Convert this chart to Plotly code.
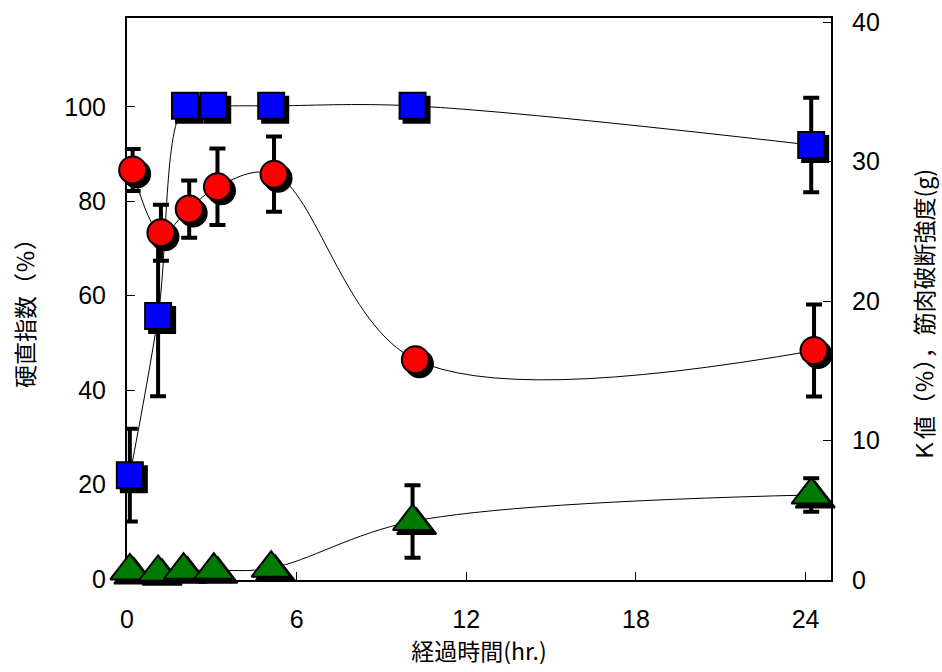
import plotly.graph_objects as go

# ---- data ----
time_rigor = [0.1, 1.1, 2.05, 3.05, 5.1, 10.1, 24.2]
rigor_index = [22.0, 55.7, 100.2, 100.2, 100.2, 100.2, 91.9]
rigor_err = [9.8, 17.0, 0, 0, 0, 0, 10.0]

time_strength = [0.2, 1.2, 2.2, 3.2, 5.2, 10.2, 24.3]
breaking_strength = [29.4, 24.9, 26.6, 28.2, 29.1, 15.8, 16.45]
strength_err = [1.5, 2.0, 2.05, 2.75, 2.7, 0, 3.3]

time_k = [0.1, 1.1, 2.0, 3.07, 5.1, 10.1, 24.2]
k_value = [0.65, 0.55, 0.7, 0.7, 0.85, 4.2, 6.1]
k_err = [0, 0, 0, 0, 0, 2.6, 1.2]

x_ticks = [0, 6, 12, 18, 24]
left_ticks = [0, 20, 40, 60, 80, 100]
right_ticks = [0, 10, 20, 30, 40]

x_title = "経過時間(hr.)"
left_title = "硬直指数（％）"
right_title = "Ｋ値（％），筋肉破断強度(g)"

# ---- layout geometry ----
W, H = 942, 672
ML, MR, MT, MB = 127, 111, 18, 92
PW, PH = W - ML - MR, H - MT - MB
XR = [0, 24.9]
YL = [-0.2, 118.8]
YR = [0, 40.3]
SH = 4  # shadow offset in px

dx = SH * (XR[1] - XR[0]) / PW
dyl = SH * (YL[1] - YL[0]) / PH
dyr = SH * (YR[1] - YR[0]) / PH


def px_to_paper(px, py):
    return (px - ML) / PW, 1 - (py - MT) / PH


FONT = "Liberation Sans, Arial, Noto Sans CJK JP"
CJK = "Noto Sans CJK JP, Liberation Sans"

SQ, CI, TR = 26, 27, 34

fig = go.Figure()

# shadows (on shifted, hidden axes)
fig.add_trace(go.Scatter(x=time_rigor, y=rigor_index, mode="markers", xaxis="x", yaxis="y",
                         marker=dict(symbol="square", size=SQ, color="black", line=dict(color="black", width=2)),
                         cliponaxis=False, hoverinfo="skip", showlegend=False))
fig.add_trace(go.Scatter(x=time_strength, y=breaking_strength, mode="markers", xaxis="x", yaxis="y2",
                         marker=dict(symbol="circle", size=CI, color="black", line=dict(color="black", width=2)),
                         cliponaxis=False, hoverinfo="skip", showlegend=False))
fig.add_trace(go.Scatter(x=time_k, y=k_value, mode="markers", xaxis="x", yaxis="y2",
                         marker=dict(symbol="triangle-up", size=TR, color="black", line=dict(color="black", width=2)),
                         cliponaxis=False, hoverinfo="skip", showlegend=False))

# real series
fig.add_trace(go.Scatter(x=time_rigor, y=rigor_index, mode="lines+markers", xaxis="x2", yaxis="y3",
                         line=dict(color="black", width=1, shape="spline"),
                         marker=dict(symbol="square", size=SQ, color="#0000ff", line=dict(color="black", width=2)),
                         error_y=dict(type="data", array=rigor_err, color="black", thickness=4, width=8),
                         cliponaxis=False, name="硬直指数"))
fig.add_trace(go.Scatter(x=time_k, y=k_value, mode="lines+markers", xaxis="x2", yaxis="y4",
                         line=dict(color="black", width=1, shape="spline"),
                         marker=dict(symbol="triangle-up", size=TR, color="#007a00", line=dict(color="black", width=2)),
                         error_y=dict(type="data", array=k_err, color="black", thickness=4, width=8),
                         cliponaxis=False, name="K値"))
fig.add_trace(go.Scatter(x=time_strength, y=breaking_strength, mode="lines+markers", xaxis="x2", yaxis="y4",
                         line=dict(color="black", width=1, shape="spline"),
                         marker=dict(symbol="circle", size=CI, color="#ff0000", line=dict(color="black", width=2)),
                         error_y=dict(type="data", array=strength_err, color="black", thickness=4, width=8),
                         cliponaxis=False, name="筋肉破断強度"))

tickfont = dict(family=FONT, size=25, color="black")
titlefont = dict(family=CJK, size=23, color="black")

lx, ly = px_to_paper(24, 308)
rx, ry = px_to_paper(923, 316)

fig.update_layout(
    width=W, height=H,
    margin=dict(l=ML, r=MR, t=MT, b=MB, autoexpand=False),
    paper_bgcolor="white", plot_bgcolor="white",
    showlegend=False,
    font=dict(family=FONT, color="black"),
    xaxis=dict(range=[XR[0] - dx, XR[1] - dx], visible=False, fixedrange=True),
    yaxis=dict(range=[YL[0] + dyl, YL[1] + dyl], visible=False, fixedrange=True),
    yaxis2=dict(range=[YR[0] + dyr, YR[1] + dyr], visible=False, overlaying="y", side="right", fixedrange=True),
    xaxis2=dict(range=XR, overlaying="x", anchor="y3", side="bottom",
                tickvals=x_ticks, ticktext=[str(v) for v in x_ticks],
                ticks="inside", ticklen=8, tickwidth=1, tickcolor="black",
                showline=True, linecolor="black", linewidth=2, mirror=True,
                showgrid=False, zeroline=False, tickfont=tickfont, ticklabelstandoff=16,
                layer="below traces",
                title=dict(text=x_title, font=titlefont, standoff=12)),
    yaxis3=dict(range=YL, overlaying="y", anchor="x2", side="left",
                tickvals=left_ticks, ticktext=[str(v) for v in left_ticks],
                ticks="inside", ticklen=8, tickwidth=1, tickcolor="black",
                showline=True, linecolor="black", linewidth=2,
                showgrid=False, zeroline=False, tickfont=tickfont, ticklabelstandoff=14,
                layer="below traces"),
    yaxis4=dict(range=YR, overlaying="y", anchor="x2", side="right",
                tickvals=right_ticks, ticktext=[str(v) for v in right_ticks],
                ticks="inside", ticklen=8, tickwidth=1, tickcolor="black",
                showline=True, linecolor="black", linewidth=2,
                showgrid=False, zeroline=False, tickfont=tickfont, ticklabelstandoff=14,
                layer="below traces"),
    annotations=[
        dict(text=left_title, xref="paper", yref="paper", x=lx, y=ly, textangle=-90,
             showarrow=False, xanchor="center", yanchor="middle", font=titlefont),
        dict(text=right_title, xref="paper", yref="paper", x=rx, y=ry, textangle=-90,
             showarrow=False, xanchor="center", yanchor="middle", font=titlefont),
    ],
)

fig.write_html("out.html")
